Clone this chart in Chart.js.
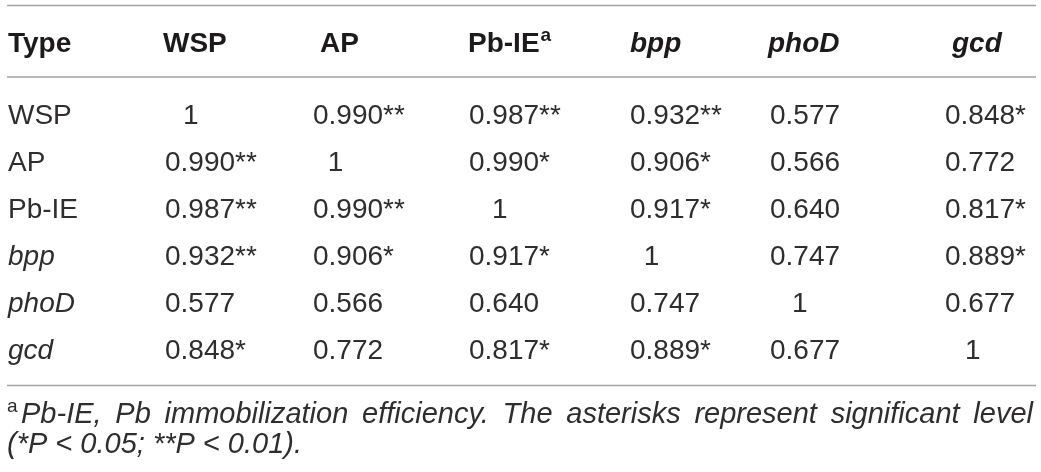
<!DOCTYPE html>
<html>
<head>
<meta charset="utf-8">
<script src="https://cdn.jsdelivr.net/npm/chart.js@4.4.0/dist/chart.umd.min.js"></script>
<style>
  html, body { margin: 0; padding: 0; background: #fff; }
  canvas { display: block; }
</style>
</head>
<body>
<canvas id="tabla" width="1041" height="472"></canvas>
<script>
// Cabeceras y filas de la tabla de correlación
const headers = ['Type', 'WSP', 'AP', 'Pb-IE', 'bpp', 'phoD', 'gcd'];
const rowTypes = ['WSP', 'AP', 'Pb-IE', 'bpp', 'phoD', 'gcd'];
const genes = ['bpp', 'phoD', 'gcd'];

// Coeficientes por fila
const rWSP  = [1, 0.990, 0.987, 0.932, 0.577, 0.848];
const rAP   = [0.990, 1, 0.990, 0.906, 0.566, 0.772];
const rPbIE = [0.987, 0.990, 1, 0.917, 0.640, 0.817];
const rBpp  = [0.932, 0.906, 0.917, 1, 0.747, 0.889];
const rPhoD = [0.577, 0.566, 0.640, 0.747, 1, 0.677];
const rGcd  = [0.848, 0.772, 0.817, 0.889, 0.677, 1];

// Asteriscos de significancia por fila
const sWSP  = ['', '**', '**', '**', '', '*'];
const sAP   = ['**', '', '*', '*', '', ''];
const sPbIE = ['**', '**', '', '*', '', '*'];
const sBpp  = ['**', '*', '*', '', '', '*'];
const sPhoD = ['', '', '', '', '', ''];
const sGcd  = ['*', '', '*', '*', '', ''];

const footLine1 = ['Pb-IE,', 'Pb', 'immobilization', 'efficiency.', 'The', 'asterisks', 'represent', 'significant', 'level'];
const footLine2 = '(*P < 0.05; **P < 0.01).';

const coef = [rWSP, rAP, rPbIE, rBpp, rPhoD, rGcd];
const sig = [sWSP, sAP, sPbIE, sBpp, sPhoD, sGcd];

// Estilo y maquetación (unidades de tabla: 0 = inicio de las reglas)
const FONT = '"Liberation Sans", Arial, sans-serif';
const INK = '#2f2d2e';
const INK_BOLD = '#1c1a1b';
const RULE = '#a2a2a2';
const SIZE = 28;
const headLeft = [1, 156, 313, 461, 623, 761, 945];
const cellLeft = [1, 158, 306, 462, 623, 763, 938];

const cells = [];
rowTypes.forEach((t, i) => {
    coef[i].forEach((v, j) => {
        cells.push({ x: cellLeft[j + 1], y: t, v: v, sig: sig[i][j], col: j + 1 });
    });
});

function fuente(bold, italic, size) {
    return (italic ? 'italic ' : '') + (bold ? 'bold ' : '') + size + 'px ' + FONT;
}

const tablaPlugin = {
    id: 'tabla',
    afterDraw(chart) {
        const ctx = chart.ctx;
        const xs = chart.scales.x;
        const ys = chart.scales.y;
        const area = chart.chartArea;
        const meta = chart.getDatasetMeta(0);

        ctx.save();
        ctx.strokeStyle = RULE;
        ctx.lineWidth = 1.5;
        [area.top - 84.5, area.top - 13, area.bottom + 13.5].forEach(y => {
            ctx.beginPath();
            ctx.moveTo(area.left, y);
            ctx.lineTo(area.right, y);
            ctx.stroke();
        });

        ctx.textBaseline = 'alphabetic';

        // Cabecera
        ctx.fillStyle = INK_BOLD;
        const headBase = area.top - 38;
        const headCenter = [];
        headers.forEach((h, i) => {
            const x = xs.getPixelForValue(headLeft[i]);
            ctx.font = fuente(true, genes.includes(h), SIZE);
            ctx.textAlign = 'left';
            ctx.fillText(h, x, headBase);
            const w = ctx.measureText(h).width;
            headCenter.push(x + w / 2);
            if (h === 'Pb-IE') {
                ctx.font = fuente(true, false, 19);
                ctx.fillText('a', x + w + 1, headBase - 11);
            }
        });

        // Etiquetas de fila
        ctx.fillStyle = INK;
        rowTypes.forEach((t, i) => {
            ctx.font = fuente(false, genes.includes(t), SIZE);
            ctx.textAlign = 'left';
            ctx.fillText(t, xs.getPixelForValue(headLeft[0]), ys.getPixelForValue(i) + 10);
        });

        // Celdas
        ctx.font = fuente(false, false, SIZE);
        meta.data.forEach((el, k) => {
            const c = cells[k];
            if (c.v === 1) {
                ctx.textAlign = 'center';
                ctx.fillText('1', headCenter[c.col] - 4, el.y + 10);
            } else {
                ctx.textAlign = 'left';
                ctx.fillText(c.v.toFixed(3) + c.sig, el.x, el.y + 10);
            }
        });

        // Nota al pie, primera línea justificada
        const base1 = area.bottom + 51;
        const base2 = area.bottom + 81;
        ctx.textAlign = 'left';
        ctx.font = fuente(false, false, 19);
        ctx.fillText('a', area.left, base1 - 11);
        ctx.font = fuente(false, true, 29);
        const start = area.left + 14;
        const end = area.right - 3;
        const widths = footLine1.map(w => ctx.measureText(w).width);
        const total = widths.reduce((a, b) => a + b, 0);
        const gap = (end - start - total) / (footLine1.length - 1);
        let x = start;
        footLine1.forEach((w, i) => {
            ctx.fillText(w, x, base1);
            x += widths[i] + gap;
        });
        ctx.fillText(footLine2, area.left, base2);
        ctx.restore();
    }
};

new Chart(document.getElementById('tabla').getContext('2d'), {
    type: 'scatter',
    data: {
        datasets: [{
            data: cells,
            pointRadius: 0,
            pointHoverRadius: 0,
            pointHitRadius: 0
        }]
    },
    options: {
        responsive: false,
        animation: false,
        events: [],
        layout: { padding: { left: 7, right: 5, top: 90, bottom: 100 } },
        plugins: { legend: { display: false }, tooltip: { enabled: false } },
        scales: {
            x: { type: 'linear', min: 0, max: 1029, display: false },
            y: { type: 'category', labels: rowTypes, offset: true, display: false }
        }
    },
    plugins: [tablaPlugin]
});
</script>
</body>
</html>
